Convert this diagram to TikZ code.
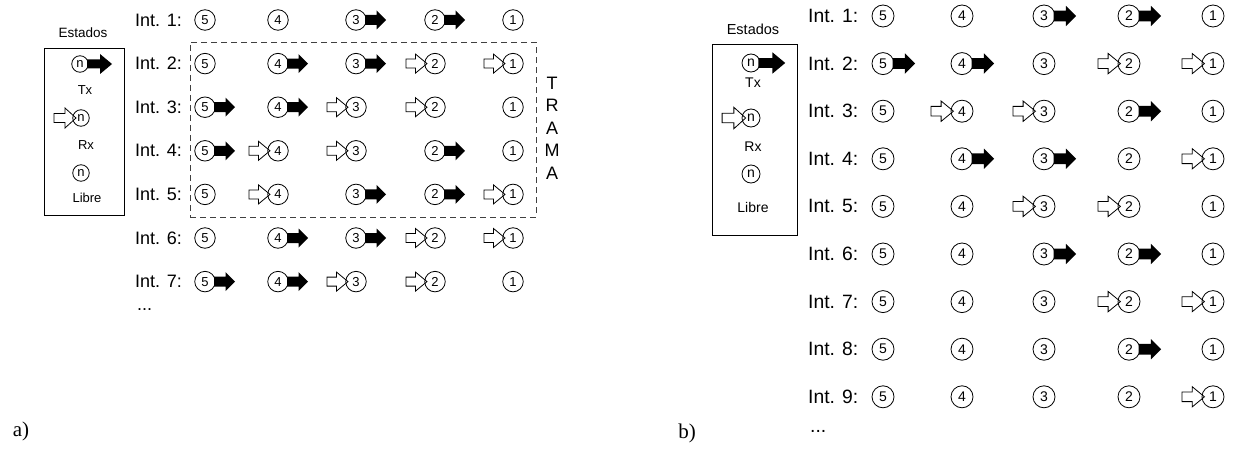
\documentclass[tikz,border=0pt]{standalone}
\usepackage{fontspec}
\setmainfont{Liberation Sans}
\newfontfamily\serifab{Liberation Serif}
\begin{document}
\begin{tikzpicture}[x=1pt,y=-1pt,
  lab/.style={anchor=west, inner sep=0pt, font=\fontsize{18}{18}\selectfont},
  labR/.style={anchor=west, inner sep=0pt, font=\fontsize{19.3}{19.3}\selectfont},
  stc/.style={circle, draw, line width=0.8pt, minimum size=20.5pt, inner sep=0pt, font=\fontsize{13}{13}\selectfont},
  stcR/.style={circle, draw, line width=0.8pt, minimum size=22pt, inner sep=0pt, font=\fontsize{14}{14}\selectfont},
  legc/.style={circle, draw, line width=0.8pt, minimum size=16.5pt, inner sep=0pt, font=\fontsize{13}{13}\selectfont},
  legcR/.style={circle, draw, line width=0.8pt, minimum size=18pt, inner sep=0pt, font=\fontsize{14}{14}\selectfont},
  legt/.style={inner sep=0pt, font=\fontsize{13}{13}\selectfont},
  legtR/.style={inner sep=0pt, font=\fontsize{14}{14}\selectfont},
  frame/.style={draw, line width=0.9pt},
  trama/.style={dashed, dash pattern=on 6pt off 4pt, draw=black!75, line width=0.9pt},
  arr-f/.pic={},
  arr-t/.pic={\fill (9,-5) -- (20.5,-5) -- (20.5,-9.5) -- (30,0) -- (20.5,9.5) -- (20.5,5) -- (9,5) -- cycle;},
  arr-r/.pic={\draw[line width=0.8pt, line join=miter] (-8,0) -- (-19.5,-9.5) -- (-19.5,-4.5) -- (-29,-4.5) -- (-29,4.5) -- (-19.5,4.5) -- (-19.5,9.5) -- cycle;},
  leg-t/.pic={\fill (7,-4.5) -- (20,-4.5) -- (20,-10) -- (32,0) -- (20,10) -- (20,4.5) -- (7,4.5) -- cycle;},
  leg-r/.pic={\draw[line width=0.8pt, line join=miter] (-5,0) -- (-16,-10) -- (-16,-4.5) -- (-27,-4.5) -- (-27,4.5) -- (-16,4.5) -- (-16,10) -- cycle;}
]
\useasboundingbox (0,0) rectangle (1234,452);

% ---------------- panel a) ----------------
\node[legt, font=\fontsize{13.5}{14}\selectfont] (LEst) at (83,33) {Estados};
\node[frame, minimum width=80pt, minimum height=167pt, inner sep=0pt] (Lbox) at (84,131.5) {};
\node[legc] (Ltx) at (80,64) {n};
\pic at (Ltx) {leg-t};
\node[legt] (LtxL) at (85,90) {Tx};
\node[legc] (Lrx) at (81,118) {n};
\pic at (Lrx) {leg-r};
\node[legt] (LrxL) at (86,145) {Rx};
\node[legc] (Llb) at (81,173) {n};
\node[legt] (LlbL) at (87,198) {Libre};

\node[trama, minimum width=346pt, minimum height=175pt, inner sep=0pt] (Ltrama) at (363,129.5) {};
\foreach \ch [count=\k] in {T,R,A,M,A}
  \node[inner sep=0pt, font=\fontsize{18}{18}\selectfont] (LT\k) at (552,{83+22.5*(\k-1)}) {\ch};

\foreach \row [count=\r] in {{f,f,t,t,f},{f,t,t,r,r},{t,t,r,r,f},{t,r,r,t,f},{f,r,t,t,r},{f,t,t,r,r},{t,t,r,r,f}}{
  \pgfmathsetmacro{\yy}{20+43.6*(\r-1)}
  \node[lab] (Llab\r) at (135,\yy) {Int. \r:};
  \foreach \s [count=\c] in \row {
    \pgfmathsetmacro{\xx}{{205,278,356,435,513}[\c-1]}
    \pgfmathtruncatemacro{\dd}{6-\c}
    \node[stc] (L\r-\c) at (\xx,\yy) {\dd};
    \pic at (L\r-\c) {arr-\s};
  }
}
\node[lab] (Ldots) at (137,310) {...};
\node[inner sep=0pt, font=\serifab\fontsize{21}{21}\selectfont] (La) at (21,431) {a)};

% ---------------- panel b) ----------------
\node[legtR, font=\fontsize{14.5}{15}\selectfont] (REst) at (753,29) {Estados};
\node[frame, minimum width=85pt, minimum height=191pt, inner sep=0pt] (Rbox) at (754.5,139.5) {};
\node[legcR] (Rtx) at (751,63) {n};
\pic[scale=1.07] at (Rtx) {leg-t};
\node[legtR] (RtxL) at (753,83) {Tx};
\node[legcR] (Rrx) at (751,118) {n};
\pic[scale=1.07] at (Rrx) {leg-r};
\node[legtR] (RrxL) at (753,147) {Rx};
\node[legcR] (Rlb) at (751,174) {n};
\node[legtR] (RlbL) at (753,207) {Libre};

\foreach \row [count=\r] in {{f,f,t,t,f},{t,t,f,r,r},{f,r,r,t,f},{f,t,t,f,r},{f,f,r,r,f},{f,f,t,t,f},{f,f,f,r,r},{f,f,f,t,f},{f,f,f,f,r}}{
  \pgfmathsetmacro{\yy}{16+47.6*(\r-1)}
  \node[labR] (Rlab\r) at (808,\yy) {Int. \r:};
  \foreach \s [count=\c] in \row {
    \pgfmathsetmacro{\xx}{{883,962,1044,1129,1213}[\c-1]}
    \pgfmathtruncatemacro{\dd}{6-\c}
    \node[stcR] (R\r-\c) at (\xx,\yy) {\dd};
    \pic[scale=1.07] at (R\r-\c) {arr-\s};
  }
}
\node[labR] (Rdots) at (810,431) {...};
\node[inner sep=0pt, font=\serifab\fontsize{21}{21}\selectfont] (Rb) at (687,433) {b)};
\end{tikzpicture}
\end{document}
